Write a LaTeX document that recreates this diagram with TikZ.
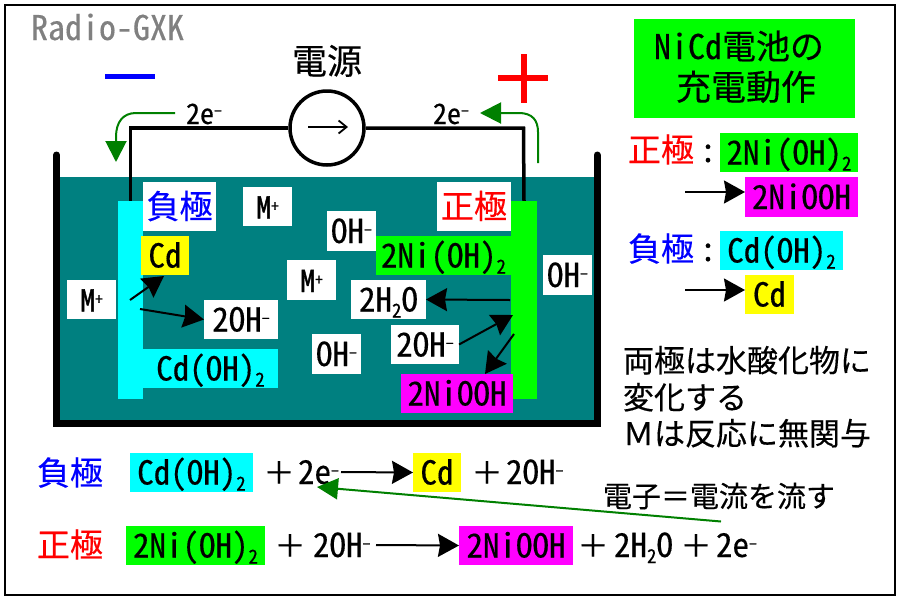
\documentclass[tikz,border=0pt]{standalone}
\usepackage{fontspec}
\usetikzlibrary{arrows.meta}
\setmainfont[RawFeature=+hwid,FakeBold=0.35]{Noto Sans CJK JP}
\newfontfamily\fw[FakeBold=0.35]{Noto Sans CJK JP}
\newfontfamily\hv[RawFeature=+hwid,FakeBold=1.5]{Noto Sans CJK JP}
\definecolor{teal1}{RGB}{0,128,128}
\definecolor{grn}{RGB}{0,128,0}
\definecolor{lime1}{RGB}{0,255,0}
\definecolor{cyan1}{RGB}{0,255,255}
\definecolor{mag1}{RGB}{255,0,255}
\definecolor{yel1}{RGB}{255,255,0}
\definecolor{blu1}{RGB}{0,0,255}
\definecolor{red1}{RGB}{255,0,0}
\newcommand{\fs}[1]{\fontsize{#1}{#1}\selectfont}
\newcommand{\subt}{\raisebox{-6pt}{\fs{19}2}}
\newcommand{\supm}{\raisebox{9pt}{\fs{15}–}}
\newcommand{\supp}{\raisebox{7pt}{\fs{15}+}}
\newcommand{\emm}{{\hv\fs{30}M}\supp}
\newcommand{\bx}[7]{\node[lab,fill=#6,minimum width=#4pt-#2pt,minimum height=#5pt-#3pt] (#1) at ({(#2+#4)/2},{(#3+#5)/2}) {#7};}
\tikzset{
 x=1pt,y=-1pt,
 lab/.style={inner sep=0pt,outer sep=0pt,text height=24pt,text depth=0pt,font=\fs{33},text=black},
 blk/.style={-{Stealth[length=21pt,width=23pt,inset=2pt]},line width=2pt,black},
 gar/.style={-{Stealth[length=21pt,width=21pt,inset=0pt]},line width=2pt,grn},
 wall/.style={line width=7pt,line cap=round,line join=miter},
 wire/.style={line width=3.5pt,black},
 plus/.style={lab,font=\fw\fs{31}},
 west/.style={lab,anchor=west},
}
\begin{document}
\begin{tikzpicture}
\useasboundingbox (0,0) rectangle (900,600);
\fill[white] (0,0) rectangle (900,600);
\draw[line width=2.5pt] (5,5) rectangle (895,595);
% tank
\fill[teal1] (57,177) rectangle (597,423);
\draw[wall] (56.5,155) -- (56.5,423) -- (597,423) -- (597,155);
\node[west,font=\fs{34},text=gray] (logo) at (31,28) {Radio-GXK};
% electrodes
\node[fill=cyan1,inner sep=0,minimum width=25.5pt,minimum height=198pt] (neg) at (130.5,300) {};
\node[fill=lime1,inner sep=0,minimum width=25.5pt,minimum height=198pt] (pos) at (524,300) {};
% source and wires
\node[circle,draw,line width=3.5pt,minimum size=74pt,inner sep=0,fill=white] (src) at (327,128) {};
\draw[wire] (src.west) -- (130.5,128) -- (neg.north);
\draw[wire] (src.east) -- (523.5,128) -- (pos.north);
\coordinate (sa) at (308,127); \coordinate (sb) at (348,127);
\draw[-{Straight Barb[length=8pt,width=13pt]},line width=1.8pt] (sa) -- (sb);
\node[lab,font=\fs{35}] (dengen) at (327,62) {電源};
% polarity marks
\fill[blu1] (105,74) rectangle (155,79);
\fill[red1] (498,75) rectangle (548,81);
\fill[red1] (520.7,54) rectangle (526.7,103);
% electron flow
\node[lab,font=\fs{28}] (e1) at (204,112) {2e\supm};
\node[lab,font=\fs{28}] (e2) at (451,112) {2e\supm};
\coordinate (g1) at (175,113); \coordinate (g1t) at (116,162);
\draw[gar] (g1) -- (136,113) .. controls (123,113) and (116,122) .. (116,137) -- (g1t);
\coordinate (g2) at (538,163); \coordinate (g2t) at (480,113);
\draw[gar] (g2) -- (538,132) .. controls (538,120) and (532,113) .. (519,113) -- (g2t);
% boxes in tank
\bx{n1}{143}{182}{216}{231}{white}{\textcolor{blu1}{負極}}
\bx{m1}{243}{187}{292}{226}{white}{\emm}
\bx{cd1}{141}{236}{189}{275}{yel1}{Cd}
\bx{m2}{67}{280}{116}{319}{white}{\emm}
\bx{oh1}{204}{300}{278}{339}{white}{2OH\supm}
\bx{cdo}{143}{349}{278}{388}{cyan1}{Cd(OH)\subt}
\bx{m3}{287}{260}{336}{300}{white}{\emm}
\bx{oh2}{327}{211}{376}{251}{white}{OH\supm}
\bx{ni1}{376}{236}{511}{275}{lime1}{2Ni(OH)\subt}
\bx{p1}{437}{182}{511}{231}{white}{\textcolor{red1}{正極}}
\bx{oh3}{543}{255}{592}{295}{white}{OH\supm}
\bx{w1}{351}{280}{426}{319}{white}{2H\subt O}
\bx{oh4}{391}{325}{459}{364}{white}{2OH\supm}
\bx{oh5}{312}{334}{361}{374}{white}{OH\supm}
\bx{nio}{401}{374}{513}{413}{mag1}{2NiOOH}
% reaction arrows in tank
\coordinate (a1) at (130,300); \coordinate (a1t) at (164,276);
\draw[blk] (a1) -- (a1t);
\coordinate (a2) at (140,309);
\draw[blk] (a2) -- (oh1.west);
\coordinate (a3) at (510,300);
\draw[blk] (a3) -- (w1.east);
\coordinate (a4t) at (513,315);
\draw[blk] (oh4.east) -- (a4t);
\coordinate (a5) at (514,334); \coordinate (a5t) at (485,374);
\draw[blk] (a5) -- (a5t);
% title
\bx{title}{634}{19}{855}{118}{lime1}{}
\node[west,font=\fs{34}] (t1) at (654,47) {NiCd電池の};
\node[west,font=\fs{35}] (t2) at (676,88) {充電動作};
% right column
\node[lab,text=red1] (r1) at (661,150) {正極};
\node[lab] (rc1) at (708,150) {:};
\bx{r2}{720}{133}{858}{172}{lime1}{2Ni(OH)\subt}
\bx{r3}{745}{177}{858}{217}{mag1}{2NiOOH}
\coordinate (r3a) at (685,192);
\draw[blk] (r3a) -- (r3a-|r3.west);
\node[lab,text=blu1] (r4) at (661,249) {負極};
\node[lab] (rc2) at (708,249) {:};
\bx{r5}{720}{231}{843}{270}{cyan1}{Cd(OH)\subt}
\bx{r6}{745}{275}{794}{314}{yel1}{Cd}
\coordinate (r6a) at (685,290);
\draw[blk] (r6a) -- (r6a-|r6.west);
\node[west,font=\fs{31}] (c1) at (623,360) {両極は水酸化物に};
\node[west,font=\fs{31}] (c2) at (623,397) {変化する};
\node[west,font=\fs{31}] (c3) at (623,433) {{\fw Ｍ}は反応に無関与};
% bottom equations
\node[lab,text=blu1] (b1) at (70,473) {負極};
\bx{b2}{130}{453}{253}{492}{cyan1}{Cd(OH)\subt}
\node[plus] (bp1) at (279,472) {＋};
\node[west] (b3) at (298,472) {2e\supm};
\bx{b4}{413}{453}{461}{492}{yel1}{Cd}
\node[plus] (bp2) at (487,472) {＋};
\node[west] (b5) at (506,472) {2OH\supm};
\coordinate (b3a) at (341,472);
\draw[blk] (b3a) -- (b4.west);
\node[lab,text=red1] (d1) at (70,545) {正極};
\bx{d2}{126}{526}{265}{565}{lime1}{2Ni(OH)\subt}
\node[plus] (dp1) at (290,545) {＋};
\node[west] (d3) at (313,545) {2OH\supm};
\bx{d4}{459}{526}{573}{565}{mag1}{2NiOOH}
\coordinate (d3a) at (376,545);
\draw[blk] (d3a) -- (d4.west);
\node[plus] (dp2) at (593,545) {＋};
\node[west] (d5) at (614,545) {2H\subt O};
\node[plus] (dp3) at (696,545) {＋};
\node[west] (d6) at (716,545) {2e\supm};
\node[west,font=\fw\fs{29}] (cur) at (603,495) {電子＝電流を流す};
\coordinate (cs) at (721,521.5); \coordinate (ct) at (317,487);
\draw[gar] (cs) -- (ct);
\end{tikzpicture}
\end{document}
